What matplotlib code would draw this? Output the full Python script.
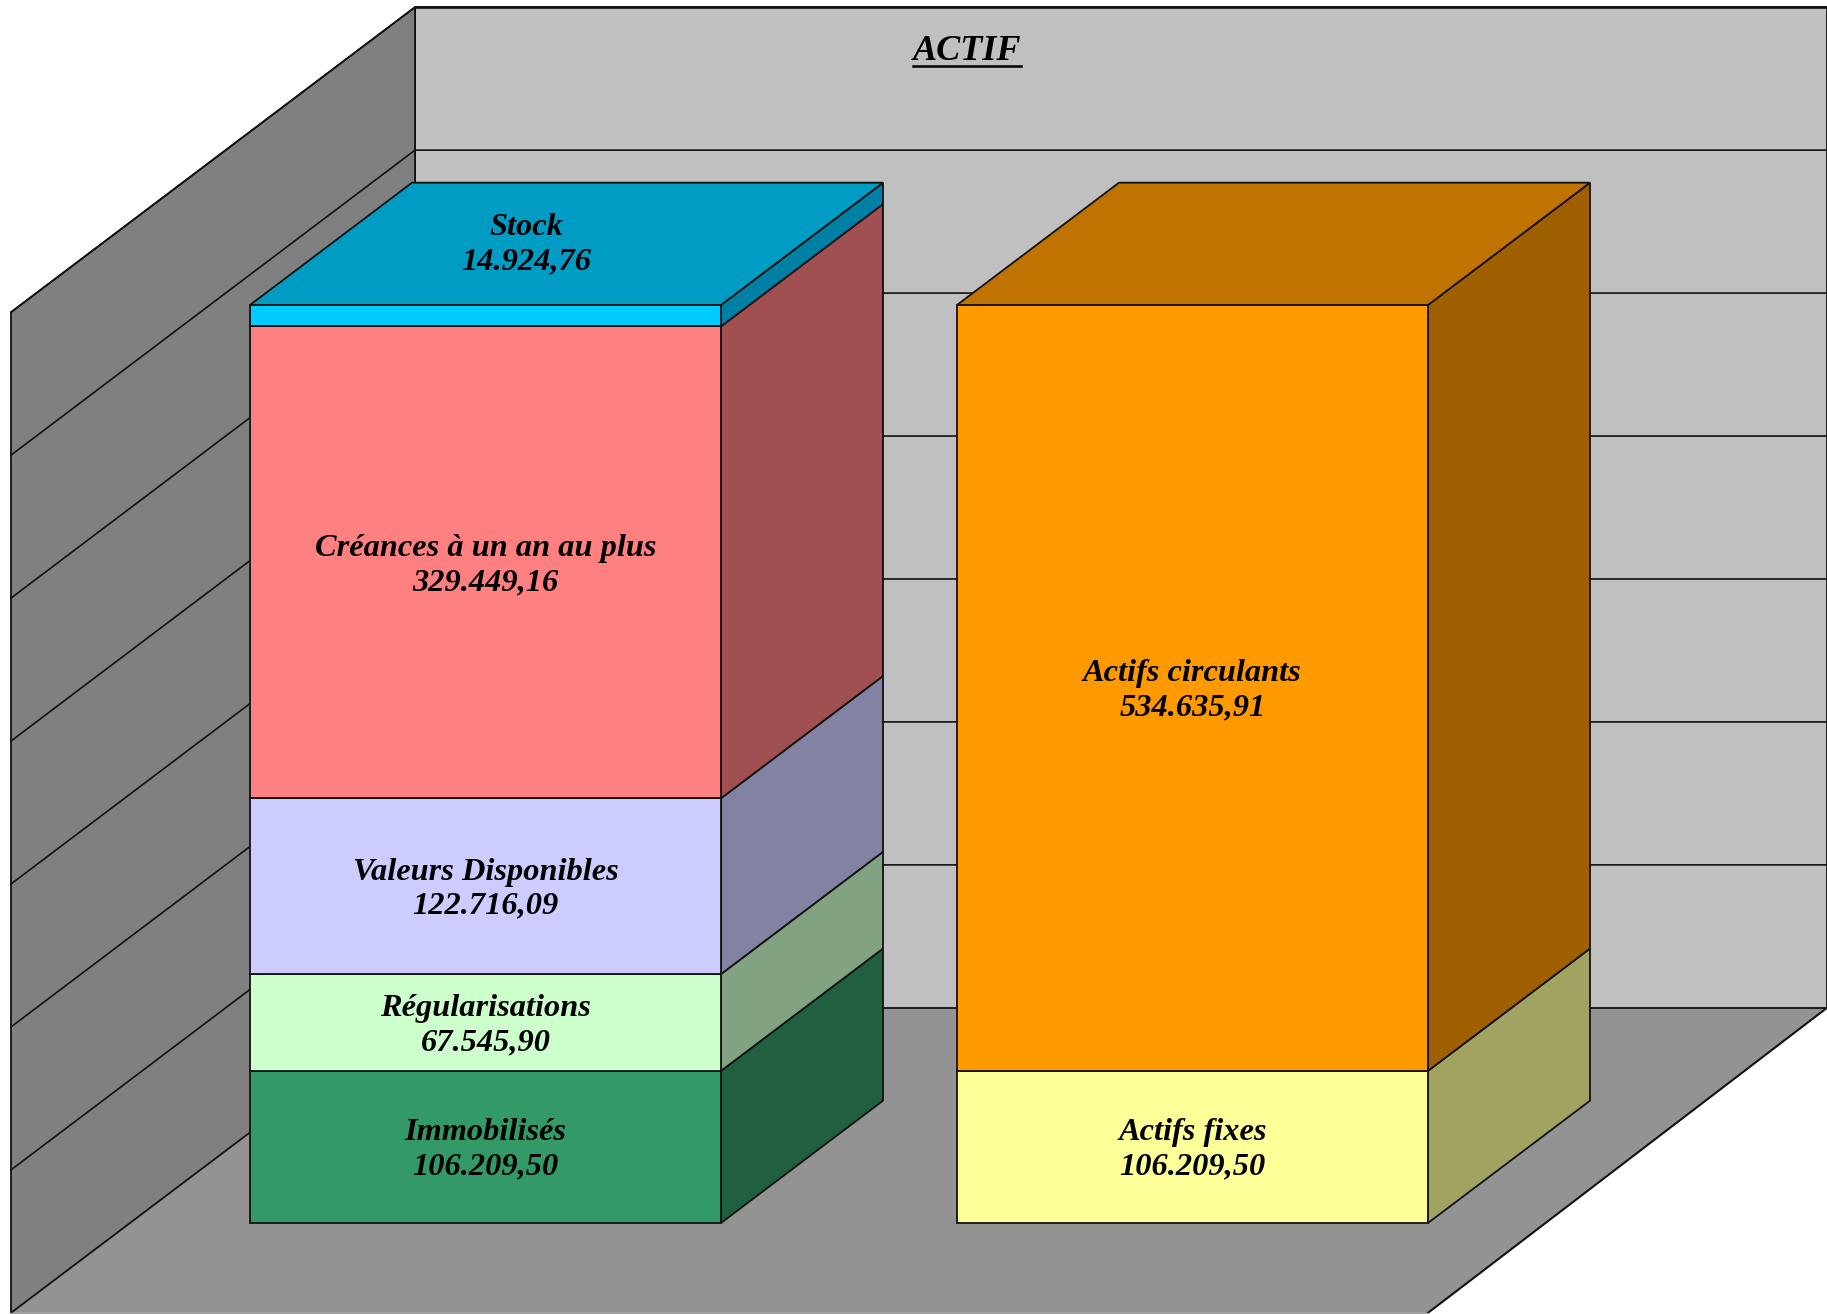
import matplotlib
matplotlib.use("Agg")
import matplotlib.pyplot as plt
from matplotlib.patches import Polygon

# stacked bars, bottom to top
left_names = ["Immobilisés", "Régularisations", "Valeurs Disponibles", "Créances à un an au plus", "Stock"]
left_values = [106209.50, 67545.90, 122716.09, 329449.16, 14924.76]
left_front = ["#339966", "#CCFFCC", "#CCCCFF", "#FF8080", "#00CCFF"]
left_side = ["#206040", "#82A382", "#8282A3", "#A05050", "#0080A5"]

right_names = ["Actifs fixes", "Actifs circulants"]
right_values = [106209.50, 534635.91]
right_front = ["#FFFF99", "#FF9900"]
right_side = ["#A3A361", "#A06000"]

grid_values = [0, 100000, 200000, 300000, 400000, 500000, 600000, 700000]
title = "ACTIF"

W, H = 1827, 1314
px_per_val = 143.25 / 100000
wall_scale = 142.95 / 143.25   # wall grid is a hair tighter than the bars
base_px = 1223       # pixel row of value 0 on the front plane of the bars
slope = 0.755        # vertical shift per unit of depth

wall_d = 285
floor_d = -119
plane_l, plane_r = 130, 1542
bar_d = 162

fig = plt.figure(figsize=(W / 100, H / 100), dpi=100)
ax = fig.add_axes([0, 0, 1, 1])
ax.set_xlim(0, W)
ax.set_ylim(-(H - base_px) / px_per_val, base_px / px_per_val)
ax.axis("off")


def proj(x, v, d=0):
    # oblique projection of the old excel 3d look
    return (x + d, v + d * slope / px_per_val)


def face(pts, color, z, lw=1.3, edge="#111111"):
    ax.add_patch(Polygon([proj(*p) for p in pts], closed=True, facecolor=color,
                         edgecolor=edge, linewidth=lw, zorder=z, joinstyle="miter"))


top = grid_values[-1] * wall_scale

# walls and floor
floor_pts = [(plane_l, 0, floor_d), (plane_r + 5, 0, floor_d), (plane_r, 0, wall_d), (plane_l, 0, wall_d)]
face(floor_pts, "#939393", 1, edge="none")
face([(plane_l, 0, wall_d), (plane_r, 0, wall_d), (plane_r, top, wall_d), (plane_l, top, wall_d)], "#C0C0C0", 1)
face([(plane_l, 0, floor_d), (plane_l, 0, wall_d), (plane_l, top, wall_d), (plane_l, top, floor_d)], "#808080", 1)

xs, ys = zip(proj(*floor_pts[1]), proj(*floor_pts[2]))
ax.plot(xs, ys, color="#111111", lw=1.5, zorder=2)
xs, ys = zip(proj(*floor_pts[0]), proj(*floor_pts[1]))
ax.plot(xs, ys, color="#999999", lw=1.0, zorder=2)

for g in grid_values[1:]:
    g = g * wall_scale
    xs, ys = zip(proj(plane_l, g, floor_d), proj(plane_l, g, wall_d), proj(plane_r, g, wall_d))
    ax.plot(xs, ys, color="#111111", lw=1.2, zorder=2)
xs, ys = zip(proj(plane_l, top, wall_d), proj(plane_r, top, wall_d))
ax.plot(xs, ys, color="#111111", lw=1.9, zorder=2)


def fmt(v):
    return f"{v:,.2f}".replace(",", " ").replace(".", ",").replace(" ", ".")


def stack(x0, x1, names, values, front, side, top_color):
    bottom = 0
    for i in range(len(values)):
        v0, v1 = bottom, bottom + values[i]
        face([(x1, v0), (x1, v0, bar_d), (x1, v1, bar_d), (x1, v1)], side[i], 3 + i * 0.1)
        face([(x0, v0), (x1, v0), (x1, v1), (x0, v1)], front[i], 3 + i * 0.1)
        bottom = v1
    face([(x0, bottom), (x1, bottom), (x1, bottom, bar_d), (x0, bottom, bar_d)], top_color, 4)
    return bottom


def label(x, y, name, v):
    ax.text(x, y, name + "\n" + fmt(v), ha="center", va="center", ma="center",
            family="Liberation Serif", style="italic", weight="bold", fontsize=23.3,
            linespacing=1.24, color="black", zorder=6)


lx0, lx1 = 250, 721
rx0, rx1 = 957, 1428
stack(lx0, lx1, left_names, left_values, left_front, left_side, "#009CC3")
stack(rx0, rx1, right_names, right_values, right_front, right_side, "#C07300")

text_drop = 3 / px_per_val  # labels sit a little under the segment middle

b = 0
for i in range(len(left_values)):
    mid = b + left_values[i] / 2
    if left_names[i] == "Stock":
        # this one sits on the top face
        xt, yt = proj((lx0 + lx1) / 2 + 41 - 80, b + left_values[i], 80)
        label(xt, yt, left_names[i], left_values[i])
    else:
        label((lx0 + lx1) / 2, mid - text_drop, left_names[i], left_values[i])
    b += left_values[i]

b = 0
for i in range(len(right_values)):
    label((rx0 + rx1) / 2, b + right_values[i] / 2 - text_drop, right_names[i], right_values[i])
    b += right_values[i]

# title, underlined by hand
tx, ty = 967, (base_px - 51) / px_per_val
t = ax.text(tx, ty, title, ha="center", va="center", family="Liberation Serif",
            style="italic", weight="bold", fontsize=26, color="black", zorder=6)
fig.canvas.draw()
bb = t.get_window_extent().transformed(ax.transData.inverted())
ax.plot([bb.x0, bb.x1], [(base_px - 66) / px_per_val] * 2, color="black", lw=1.8, zorder=6)

fig.savefig("out.png", dpi=100, facecolor="white")
